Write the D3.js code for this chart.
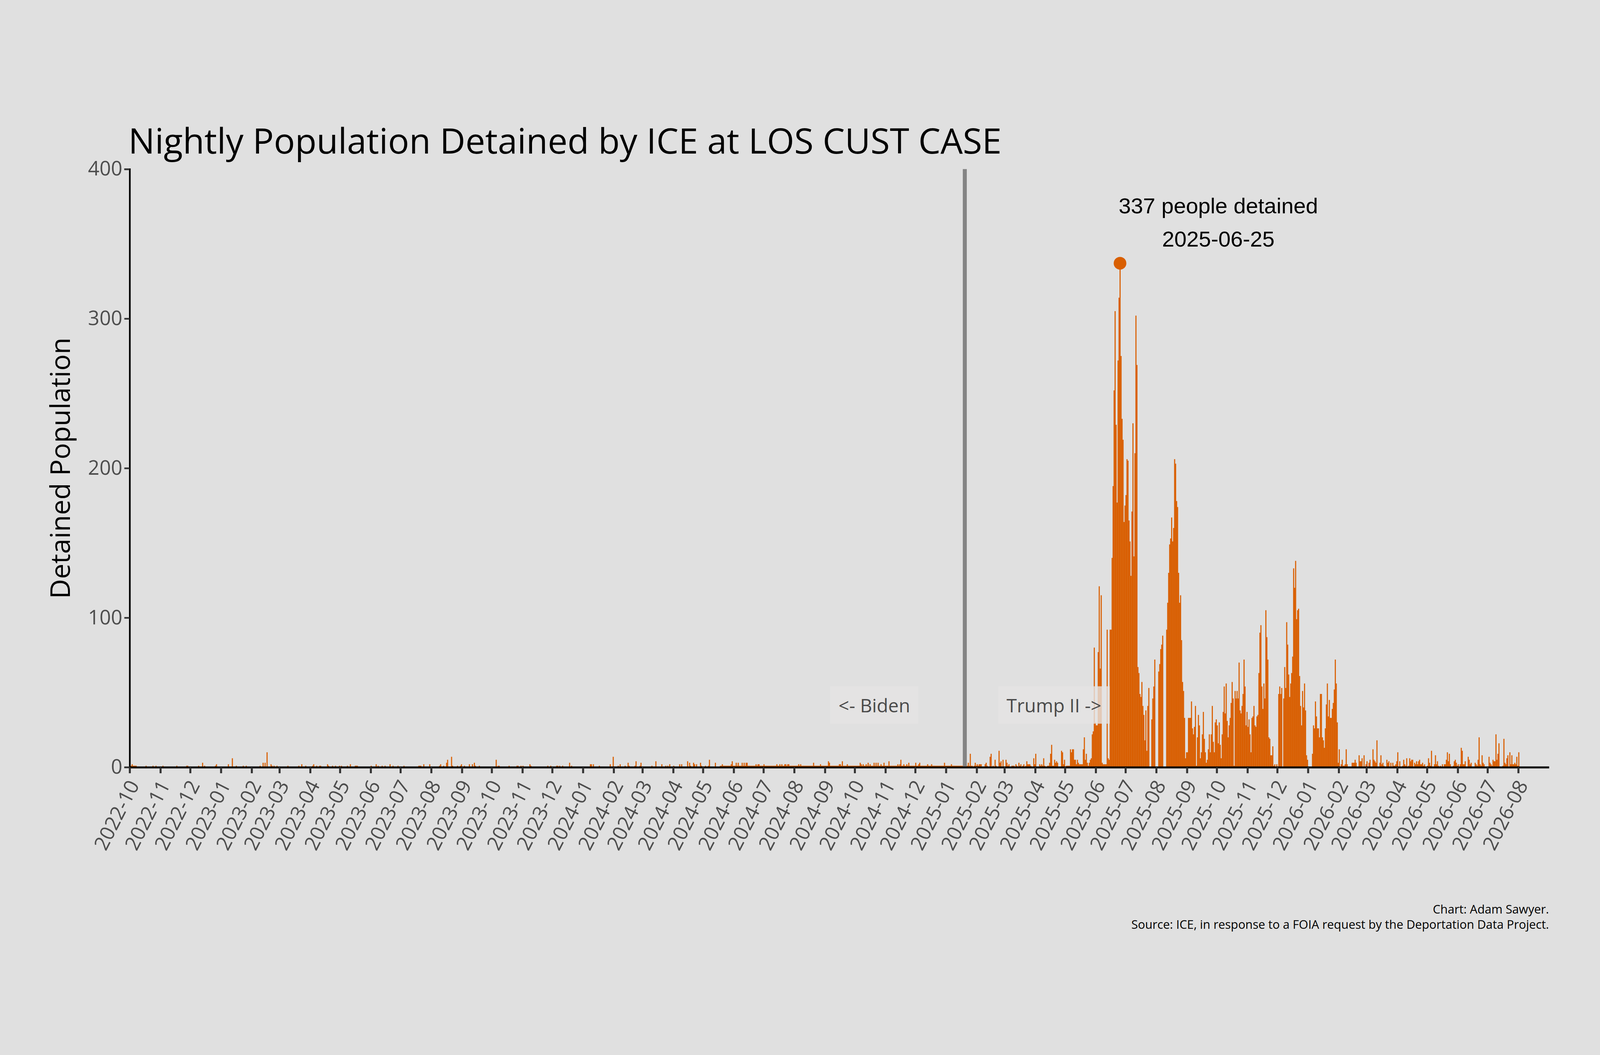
<!DOCTYPE html>
<html><head><meta charset="utf-8">
<script src="https://cdn.jsdelivr.net/npm/d3@7"></script>
<style>html,body{margin:0;padding:0;background:#e0e0e0;overflow:hidden;width:100%;height:100%;}
svg{display:block;width:100vw;height:100vh;}</style>
</head><body><svg id="c" viewBox="0 0 4800 2700" preserveAspectRatio="xMidYMid meet"></svg>
<script>
// ---- DATA ----
const originDate = "2022-10-01";
// sparse nights before 2025-01-20: day offset from originDate and value
const preDays = [0,1,2,3,4,5,6,16,23,26,33,47,57,58,69,73,75,86,87,99,103,107,114,117,131,134,136,138,142,143,145,148,159,170,173,177,184,185,188,191,192,199,200,204,207,211,213,219,222,227,228,229,243,248,250,254,257,262,265,270,276,291,292,293,296,302,312,313,316,319,320,324,325,330,333,334,337,342,345,347,348,352,369,371,372,382,390,391,394,396,403,404,421,424,430,431,433,436,443,445,464,465,467,473,484,487,492,494,499,502,503,509,510,514,515,526,530,536,540,542,544,548,554,556,562,564,565,568,569,571,575,576,580,583,584,590];
const preValues = [1,1,2,1,1,1,1,1,1,1,1,1,1,1,1,3,1,1,2,2,6,1,1,1,1,3,3,10,2,1,1,1,1,1,2,1,1,2,1,1,1,2,1,1,1,1,1,1,2,1,1,1,1,2,1,1,1,2,1,1,1,1,1,1,2,2,1,2,1,3,5,7,1,1,1,2,1,2,2,3,1,1,5,1,1,1,1,1,1,1,2,1,1,1,1,1,1,1,3,1,2,2,2,1,2,7,1,2,1,3,1,1,4,1,3,1,4,2,1,1,2,1,2,2,4,3,1,3,2,2,3,1,1,1,5,3];
// from mid-2024 to 2025-01-19 one person held nightly, with these higher nights
const steadyRun = [595, 841, 1];
const steadyDays = [597,606,607,611,613,617,619,621,622,631,633,634,639,652,655,657,660,661,663,664,674,676,689,696,704,705,715,716,718,723,736,737,739,742,744,746,750,752,754,757,760,765,774,776,777,780,783,785,792,795,796,804,808,821,828];
const steadyValues = [2,2,4,3,3,3,3,3,3,2,2,2,2,2,2,2,2,2,2,2,2,2,3,2,4,3,2,2,4,2,3,2,2,2,3,2,3,3,3,2,3,4,2,2,5,2,2,3,3,2,3,2,2,3,2];
// daily series from 2025-01-20
const startA = "2025-01-20";
const valuesA = [2,1,1,3,1,9,1,1,0,1,3,1,2,1,2,2,2,0,0,0,2,3,1,0,0,7,9,0,1,0,5,1,0,0,11,3,4,0,5,0,0,5,3,1,2,0,0,1,1,1,0,2,1,0,3,1,2,0,1,2,0,1,4,2,2,2,1,0,0,6,2,9,0,0,0,2,1,2,1,6,1,0,0,1,1,3,9,15,1,1,5,3,4,3,0,0,0,11,10,2,5];
const startB = "2025-05-02";
const valuesB = [1,1,1,1,12,10,12,12,5,5,2,5,3,2,2,2,2,12,20,5,9,3,1,3,5,6,22,24,80,30,28,28,77,121,66,115,3,2,2,2,2,92,6,5,92,92,140,188,252,305,229,177,272,314,337,
275,233,219,164,175,182,206,205,165,151,128,171,230,141,210,302,269,67,63,49,47,57,41,35,18,38,11,41,53,0,0,32,46,54,72,0,0,0,64,69,79,82,88,0,0,0,92,110,130,149,153,167,151,160,206,203,178,174,130,110,115,85,57,51,33,6,10,10,33,33,33,44,26,22,27,41,1,20,35,28,6,10,22,37,19,10,3,5,12,22,10,22,41,17,10,30,32,28,16,30,15,6,22,37,54,36,56,31,20,28,33,43,57,46,1,51,46,51,46,70,38,36,41,49,72,54,28,37,27,32,22,10,33,34,41,28,27,34,35,63,90,95,54,39,56,46,105,87,72,20,19,8,8,14,1,2,0,2,0,49,54,49,53,0,46,67,53,97,82,62,47,56,63,74,133,120,138,99,105,82];
const startC = "2025-12-22";
const valuesC = [106,61,41,28,51,40,56,38,8,5,0,0,0,0,9,28,26,44,34,26,26,20,49,49,20,18,13,26,42,56,34,45,33,33,39,43,52,72,56,30,3,12,0,2,5,1,1,2,12,2,0,0,0,0,3,3,3,5,3,0,0,8,4,4,6,0,8,0,2,4,0,3,5,0,0,12,5,4,3,18,0,0,3,8,2,3,1,0,0,5,3,4,0,3];
const startD = "2026-03-27";
const valuesD = [3,1,1,2,4,10,0,4,0,0,1,5,2,1,6,0,1,6,4,5,5,0,3,2,4,2,4,5,2,2,3,1,2,0,0,1,6,3,1,11,0,0,2,8,2,4,1,0,1,0,2,0,2,2,5,10,4,9,2,0,0,1,4,5,3,1,2,0,2,13,11,2,2,4,0,0,7,5,2,3,0,0,0,3,2,1,5,20,2,1,8,3,2,0,0,0,0,7,3,2,1,5,4,4,22,5,9,16,0,0,0,1,19,3,2,6,8,0,10,2,8,2,2,3,2,7,1,10];
const yTicks = [0,100,200,300,400];
const peakDate = "2025-06-25", peakValue = 337;
const inaugurationDate = "2025-01-20";
const titleText = "Nightly Population Detained by ICE at LOS CUST CASE";

// ---- build daily table ----
const parse = d3.utcParse("%Y-%m-%d");
const origin = parse(originDate);
const byDay = new Map();
const dayIdx = dt => Math.round((dt - origin) / 864e5);
for (let d = steadyRun[0]; d <= steadyRun[1]; d++) byDay.set(d, steadyRun[2]);
preDays.forEach((d,i)=>byDay.set(d, preValues[i]));
steadyDays.forEach((d,i)=>byDay.set(d, steadyValues[i]));
[[startA,valuesA],[startB,valuesB],[startC,valuesC],[startD,valuesD]].forEach(([s,vals])=>{
  const s0 = dayIdx(parse(s));
  vals.forEach((v,i)=>byDay.set(s0+i, v));
});
const data = Array.from(byDay, ([d,v]) => ({date: d3.utcDay.offset(origin, d), value: v})).filter(d=>d.value>0);

// ---- chart ----
const svg = d3.select("#c");
svg.append("rect").attr("width",4800).attr("height",2700).attr("fill","#e0e0e0");
const L=389, R=4647, T=275, B=2069;
const x = d3.scaleUtc().domain([origin, parse("2026-09-01")]).range([L,R]);
const y = d3.scaleLinear().domain([0,400]).range([B,T]);
const orange = "#d95f02";

svg.append("g").selectAll("rect").data(data).join("rect")
  .attr("x", d=>x(d.date))
  .attr("width", d=>x(d3.utcDay.offset(d.date,1))-x(d.date)+0.3)
  .attr("y", d=>y(d.value)).attr("height", d=>y(0)-y(d.value))
  .attr("fill", orange);

// inauguration line
svg.append("line").attr("x1",x(parse(inaugurationDate))).attr("x2",x(parse(inaugurationDate)))
  .attr("y1",y(400)).attr("y2",y(0)).attr("stroke","#808080").attr("stroke-width",12).attr("opacity",0.95);

// axes
const yAxis = svg.append("g").attr("transform",`translate(${L},0)`)
  .call(d3.axisLeft(y).tickValues(yTicks).tickSize(16).tickPadding(6));
yAxis.select(".domain").attr("stroke","#000").attr("stroke-width",5);
yAxis.selectAll(".tick line").attr("stroke","#333").attr("stroke-width",5);
yAxis.selectAll("text").attr("font-family","Open Sans").attr("font-size",60).attr("fill","#4d4d4d");

const months = d3.utcMonth.range(origin, parse("2026-08-02"));
const xAxis = svg.append("g").attr("transform",`translate(0,${B})`)
  .call(d3.axisBottom(x).tickValues(months).tickFormat(d3.utcFormat("%Y-%m")).tickSize(18).tickPadding(4).tickSizeOuter(0));
xAxis.select(".domain").attr("stroke","#000").attr("stroke-width",6);
xAxis.selectAll(".tick line").attr("stroke","#333").attr("stroke-width",6);
xAxis.selectAll("text").attr("font-family","Open Sans").attr("font-size",60).attr("fill","#4d4d4d")
  .attr("text-anchor","end").attr("dy","0.3em").attr("dx","-0.2em")
  .attr("transform","translate(0,24) rotate(-63)");

// axis title
svg.append("text").attr("transform","translate(210,1172) rotate(-90)").attr("text-anchor","middle")
  .attr("font-family","Open Sans").attr("font-size",82).attr("fill","#000").text("Detained Population");

// title (fit to width)
const title = svg.append("text").attr("x",L-4).attr("y",228).attr("font-family","Open Sans")
  .attr("font-size",100).attr("fill","#000").text(titleText);
const tw = title.node().getComputedTextLength();
title.attr("font-size", 100*2620/tw);

// peak
const px = x(d3.utcHour.offset(parse(peakDate),12));
svg.append("circle").attr("cx",px).attr("cy",y(peakValue)).attr("r",19).attr("fill",orange);
svg.append("text").attr("x",3655).attr("y",408).attr("text-anchor","middle").attr("font-family","Liberation Sans")
  .attr("font-size",66).attr("fill","#000").text(`${peakValue} people detained`);
svg.append("text").attr("x",3655).attr("y",508).attr("text-anchor","middle").attr("font-family","Liberation Sans")
  .attr("font-size",66).attr("fill","#000").text(peakDate);

// era labels
[["<- Biden",2623],["Trump II ->",3162]].forEach(([t,cx])=>{
  const g = svg.append("g");
  const tx = g.append("text").attr("x",cx).attr("y",1904).attr("text-anchor","middle")
    .attr("font-family","Open Sans").attr("font-size",56).attr("fill","#4a4a4a").text(t);
  const bb = tx.node().getBBox();
  g.insert("rect","text").attr("x",bb.x-25).attr("y",bb.y-18).attr("width",bb.width+50).attr("height",bb.height+36)
    .attr("fill","#e5e3e3").attr("opacity",0.8);
});

// caption
svg.append("text").attr("x",R).attr("y",2508).attr("text-anchor","end").attr("font-family","Open Sans")
  .attr("font-size",36).attr("fill","#000").text("Chart: Adam Sawyer.");
svg.append("text").attr("x",R).attr("y",2553).attr("text-anchor","end").attr("font-family","Open Sans")
  .attr("font-size",36).attr("fill","#000").text("Source: ICE, in response to a FOIA request by the Deportation Data Project.");
</script></body></html>
